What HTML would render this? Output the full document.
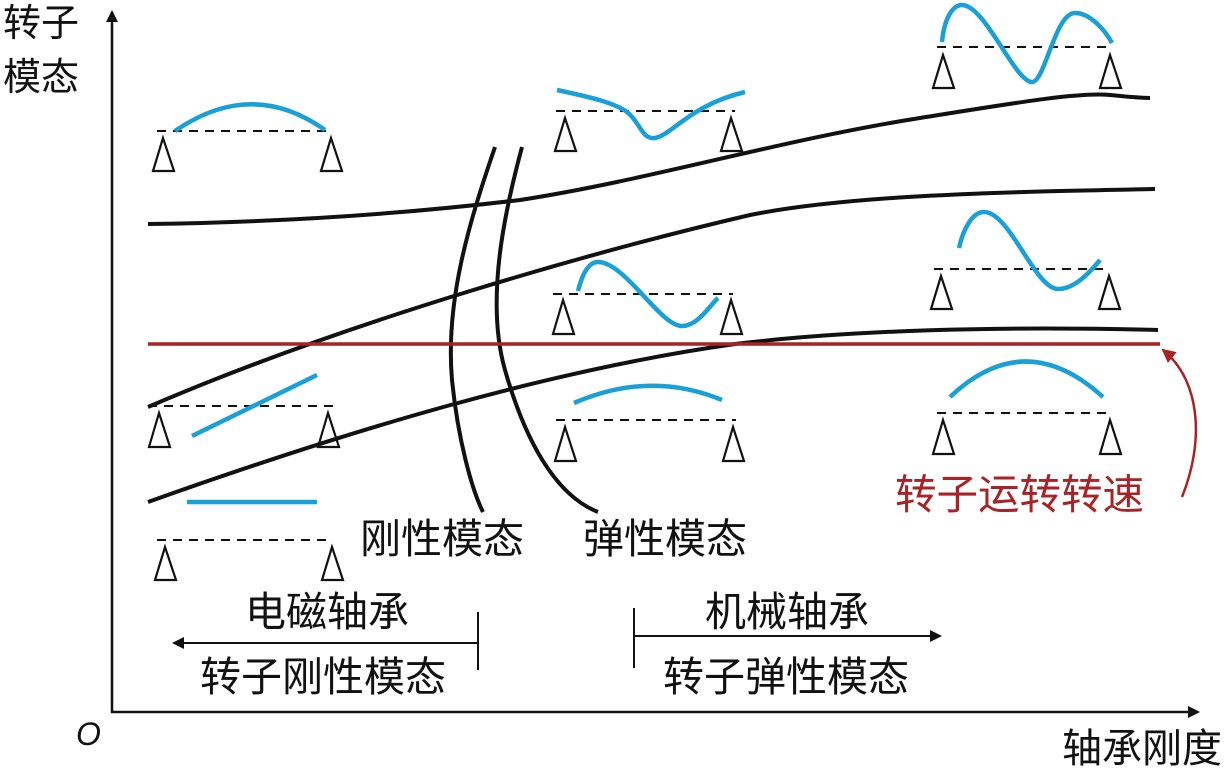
<!DOCTYPE html>
<html><head><meta charset="utf-8"><style>
html,body{margin:0;padding:0;background:#fff}
svg{display:block}
text{font-family:"Liberation Sans","Noto Sans CJK SC",sans-serif}
</style></head><body>
<svg width="1228" height="773" viewBox="0 0 1228 773" xmlns="http://www.w3.org/2000/svg">
<defs>
<marker id="ah" markerWidth="12" markerHeight="12" refX="10" refY="6" orient="auto" markerUnits="userSpaceOnUse"><path d="M0,0 L12,6 L0,12 Z" fill="#111"/></marker>
<marker id="ar" markerWidth="14" markerHeight="14" refX="12" refY="7" orient="auto" markerUnits="userSpaceOnUse"><path d="M0,0 L14,7 L0,14 Z" fill="#a82226"/></marker>
</defs>
<line x1="112" y1="713" x2="112" y2="12" stroke="#111" stroke-width="2.5" marker-end="url(#ah)"/>
<line x1="111" y1="712" x2="1198" y2="712" stroke="#111" stroke-width="2.5" marker-end="url(#ah)"/>
<text x="3" y="36" font-size="38" fill="#111">转子</text>
<text x="3" y="90" font-size="38" fill="#111">模态</text>
<text x="76" y="745" font-size="32" font-style="italic" font-family="Liberation Serif" fill="#111">O</text>
<text x="1062" y="762" font-size="40" fill="#111">轴承刚度</text>

<g fill="none" stroke="#111" stroke-width="4">
<path d="M148,224 C300,222 420,212 520,200 C650,180 780,140 920,118 C1020,102 1080,92 1110,95 C1130,97 1140,98 1150,98"/>
<path d="M148,407 C350,320 600,250 750,215 C850,195 1000,192 1155,189"/>
<path d="M148,502 C350,430 550,370 735,344 C850,330 1000,326 1158,330"/>
<path d="M495,147 C470,220 445,300 452,380 C458,440 472,490 483,512"/>
<path d="M522,147 C505,210 485,300 505,370 C525,440 555,495 598,512"/>
</g>
<line x1="148" y1="344" x2="1160" y2="344" stroke="#a82226" stroke-width="3.5"/>
<path d="M1182,497 C1205,440 1200,380 1163,350" fill="none" stroke="#a82226" stroke-width="2.5" marker-end="url(#ar)"/>

<g stroke="#111" stroke-width="2" stroke-dasharray="9,7">
<line x1="157" y1="131" x2="333" y2="131"/>
<line x1="556" y1="111" x2="735" y2="111"/>
<line x1="937" y1="47" x2="1113" y2="47"/>
<line x1="553" y1="294" x2="733" y2="294"/>
<line x1="934" y1="269" x2="1110" y2="269"/>
<line x1="556" y1="420" x2="736" y2="420"/>
<line x1="937" y1="413" x2="1112" y2="413"/>
<line x1="148" y1="406" x2="333" y2="406"/>
<line x1="157" y1="540" x2="333" y2="540"/>
</g>
<g fill="none" stroke="#111" stroke-width="2.2">
<path d="M163,138 L153,171 L174,171 Z"/><path d="M331,138 L321,171 L342,171 Z"/>
<path d="M565,118 L555,151 L576,151 Z"/><path d="M731,118 L721,151 L742,151 Z"/>
<path d="M943,55 L933,88 L954,88 Z"/><path d="M1110,55 L1100,88 L1121,88 Z"/>
<path d="M563,300 L553,334 L574,334 Z"/><path d="M731,300 L721,334 L742,334 Z"/>
<path d="M941,276 L931,309 L952,309 Z"/><path d="M1109,276 L1099,309 L1120,309 Z"/>
<path d="M565,427 L555,461 L576,461 Z"/><path d="M733,427 L723,461 L744,461 Z"/>
<path d="M943,420 L933,454 L954,454 Z"/><path d="M1110,420 L1100,454 L1121,454 Z"/>
<path d="M159,413 L149,447 L170,447 Z"/><path d="M328,413 L318,447 L339,447 Z"/>
<path d="M165,547 L155,580 L176,580 Z"/><path d="M332,547 L322,580 L343,580 Z"/>
</g>
<g fill="none" stroke="#1aa0d8" stroke-width="4.5" stroke-linecap="butt">
<path d="M175,131 Q252,78 325,130"/>
<path d="M557,90 C590,97 615,103 627,112 C640,122 642,140 655,138 C672,135 690,105 745,92"/>
<path d="M942,42 C944,20 952,5 962,5 C985,5 1015,82 1032,82 C1045,82 1055,13 1075,13 C1090,13 1105,30 1112,43"/>
<path d="M578,291 C582,275 588,262 598,262 C625,262 660,326 682,326 C698,326 710,305 718,298"/>
<path d="M959,248 C963,230 972,212 984,212 C1010,212 1035,289 1058,289 C1075,289 1090,272 1100,260"/>
<path d="M574,403 Q650,370 722,400"/>
<path d="M950,397 Q1025,326 1103,397"/>
<path d="M192,436 L317,375"/>
<path d="M187,502 L317,502"/>
</g>
<g font-size="41" fill="#111">
<text x="360" y="553">刚性模态</text>
<text x="583" y="553">弹性模态</text>
<text x="245" y="626">电磁轴承</text>
<text x="200" y="691">转子刚性模态</text>
<text x="705" y="626">机械轴承</text>
<text x="663" y="691">转子弹性模态</text>
</g>
<text x="895" y="509" font-size="41.5" fill="#a82226">转子运转转速</text>
<line x1="478" y1="643" x2="174" y2="643" stroke="#111" stroke-width="2" marker-end="url(#ah)"/>
<line x1="478" y1="612" x2="478" y2="670" stroke="#111" stroke-width="2"/>
<line x1="634" y1="636" x2="940" y2="636" stroke="#111" stroke-width="2" marker-end="url(#ah)"/>
<line x1="634" y1="608" x2="634" y2="668" stroke="#111" stroke-width="2"/>
</svg>
</body></html>
